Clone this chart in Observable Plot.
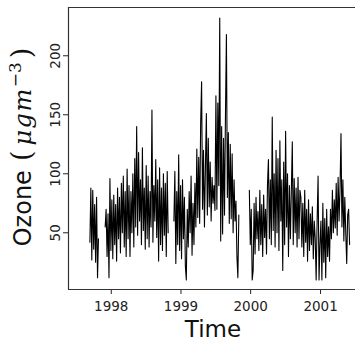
<!DOCTYPE html>
<html><head><meta charset="utf-8">
<script src="https://cdn.jsdelivr.net/npm/d3@7"></script>
<script src="https://cdn.jsdelivr.net/npm/@observablehq/plot@0.6"></script>
<style>body{margin:0;background:#fff;overflow:hidden}</style>
</head><body><div id="chart"></div>
<script>
// Daily ozone series, sampled every stepDays days starting at startDate (null = missing)
const startDate = "1997-09-11";
const stepDays = 5;
const ozone = [
  42, 88, 27, 86, 36, 74, 25, 80, 12, 45,
  null, null, null, null, null, null,
  55, 70, 30, 66, 12, 96, 35, 78, 28, 82, 40, 74, 26, 88, 45, 80, 33, 92, 50, 98, 38, 85, 30,
  104, 45, 90, 30, 85, 50, 100, 38, 113, 55, 140, 48, 118, 60, 95, 40, 122, 52, 88, 36, 107,
  45, 98, 38, 85, 55, 154, 42, 90, 60, 112, 46, 95, 26, 105, 40, 88, 35, 100, 48, 92, 30, 102, 50,
  null, null, null, null, null,
  60, 102, 24, 85, 40, 116, 35, 90, 28, 95, 45, 80, 22, 10, 70, 38, 85, 50, 98, 31, 75, 40, 92, 55,
  121, 63, 114, 58, 142, 178, 70, 120, 55, 105, 151, 65, 130, 72, 110, 60, 97, 75, 90, 69,
  166, 70, 160, 90, 232, 43, 140, 49, 130, 65, 150, 218, 80, 135, 58, 125, 62, 117, 50, 95, 60, 77, 30, 12, 65,
  null, null, null, null, null, null, null, null, null, null,
  86, 40, 70, 10, 18, 75, 32, 80, 45, 68, 35, 86, 40, 74, 30, 82, 46, 70, 32, 90,
  112, 45, 95, 40, 148, 52, 100, 38, 120, 50,
  113, 35, 128, 60, 95, 18, 110, 40, 136, 55, 100, 30, 90, 45, 85,
  127, 40, 96, 50, 88, 38, 97, 45, 86,
  80, 38, 75, 30, 86, 42, 70, 26, 78, 35, 66, 40, 72, 28, 60,
  45, 10, 60, 98, 10, 40,
  60, 10, 75, 25, 62, 12, 70, 30, 55, 26,
  70, 45, 86, 50, 78, 54, 92, 48, 97, 60, 88, 134, 55, 95, 43, 80, 50, 24, 65, 70, 40
];
const yTicks = [50, 100, 150, 200];
const xTickYears = [1998, 1999, 2000, 2001];
const yLabelMain = "Ozone";
const yLabelOpen = "(";
const yLabelUnit = "μgm";
const yLabelExp = "−3";
const yLabelClose = ")";
const xLabel = "Time";

const t0 = new Date(startDate + "T00:00:00Z").getTime();
const data = ozone.map((v, i) => ({date: new Date(t0 + i * stepDays * 864e5), value: v}));
const xTicks = xTickYears.map(y => new Date(Date.UTC(y, 0, 1)));
const xDomain = [new Date("1997-05-22T00:00:00Z"), new Date("2001-07-03T00:00:00Z")];
const yDomain = [1.95, 240.9];
const spine = "#333";

const svg = Plot.plot({
  width: 355,
  height: 341,
  marginLeft: 68,
  marginRight: 0,
  marginTop: 7,
  marginBottom: 52,
  style: {fontFamily: "DejaVu Sans", fontSize: "13.5px", background: "white", color: "#222"},
  x: {type: "utc", domain: xDomain, ticks: xTicks, tickSize: 5, tickFormat: () => "", label: null},
  y: {domain: yDomain, ticks: yTicks, tickSize: 5, tickFormat: () => "", label: null},
  marks: [
    Plot.line(data, {x: "date", y: "value", stroke: "black", strokeWidth: 1.1}),
    Plot.ruleX([xDomain[0]], {stroke: spine, strokeWidth: 1.2}),
    Plot.ruleY([yDomain[0]], {stroke: spine, strokeWidth: 1.2}),
    Plot.ruleY([yDomain[1]], {stroke: spine, strokeWidth: 1.2}),
    Plot.text(xTicks, {x: d => d, frameAnchor: "bottom", dy: 12, lineAnchor: "top", text: d => String(d.getUTCFullYear()), fill: "#222"}),
    Plot.text(yTicks, {y: d => d, frameAnchor: "left", dx: -13, rotate: -90, textAnchor: "middle", lineAnchor: "middle", text: d => String(d), fill: "#222"})
  ]
});
document.getElementById("chart").appendChild(svg);

const s = d3.select(svg);
s.append("text")
  .attr("x", 213).attr("y", 337)
  .attr("text-anchor", "middle")
  .attr("font-family", "DejaVu Sans").attr("font-size", 23).attr("fill", "#111")
  .text(xLabel);
const yl = s.append("text")
  .attr("transform", "translate(31,147) rotate(-90)")
  .attr("text-anchor", "middle")
  .attr("font-family", "DejaVu Sans").attr("font-size", 24).attr("fill", "#111");
yl.append("tspan").text(yLabelMain);
yl.append("tspan").attr("dx", 9).attr("font-family", "DejaVu Serif").attr("font-size", 27).text(yLabelOpen);
yl.append("tspan").attr("dx", 5).attr("font-family", "DejaVu Serif").attr("font-style", "italic").attr("letter-spacing", 1.5).text(yLabelUnit);
yl.append("tspan").attr("font-size", 17).attr("dy", -10).attr("font-family", "DejaVu Serif").text(yLabelExp);
yl.append("tspan").attr("dx", 4).attr("dy", 10).attr("font-family", "DejaVu Serif").attr("font-size", 27).text(yLabelClose);
</script>
</body></html>
